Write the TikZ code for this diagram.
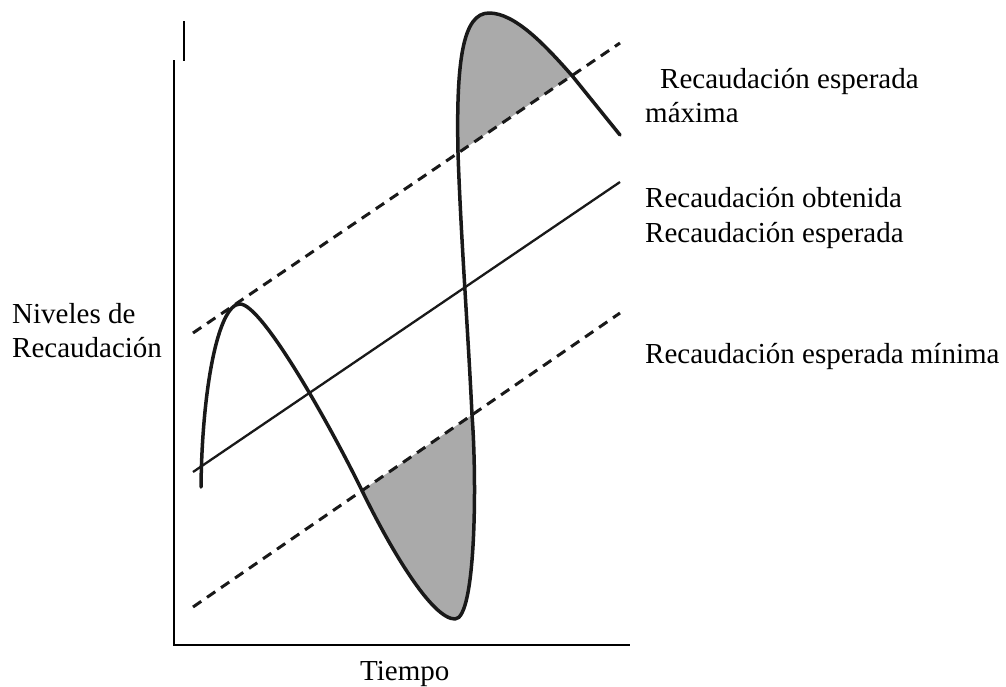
\documentclass[tikz,border=0pt]{standalone}
\usepackage{fontspec}
\setmainfont{Liberation Serif}
\newcommand\lblfont{\fontsize{29}{34}\selectfont}
\definecolor{lobegray}{RGB}{170,170,170}
\definecolor{ink}{RGB}{25,25,25}
\tikzset{
  axisline/.style={line width=2.5pt, line cap=butt, draw=black},
  dashline/.style={line width=3pt, dash pattern=on 10pt off 7pt, draw=ink},
  midline/.style={line width=2.3pt, draw=ink},
  curveline/.style={line width=3.5pt, line join=round, line cap=round, draw=ink},
  lobe/.style={fill=lobegray},
  lbl/.style={anchor=base west, inner sep=0pt, font=\lblfont},
}
\begin{document}
\begin{tikzpicture}[x=1pt, y=-1pt]
\path[use as bounding box] (0,0) rectangle (1006,686);
% coordinates
\coordinate (ua) at (193,333);
\coordinate (ub) at (620,43);
\coordinate (sa) at (193,472);
\coordinate (sb) at (620,182);
\coordinate (la) at (193,607);
\coordinate (lb) at (620,313);
\coordinate (axtop) at (174,60);
\coordinate (axorig) at (174,645);
\coordinate (axright) at (630,645);
\coordinate (ticka) at (184,21);
\coordinate (tickb) at (184,61);
% shaded lobes
\fill[lobe] (362,490.6) .. controls (391,550) and (432,619) .. (455,619)
  .. controls (476,619) and (477,480) .. (472,414.9) -- cycle;
\fill[lobe] (458,153) .. controls (456,60) and (463,13) .. (489,13)
  .. controls (515,13) and (545,45) .. (572,75.6) -- cycle;
% axes
\draw[axisline] (axtop) -- (axorig) -- (axright);
\draw[axisline] (ticka) -- (tickb);
% reference lines
\draw[dashline] (ua) -- (ub);
\draw[midline] (sa) -- (sb);
\draw[dashline] (la) -- (lb);
% obtained revenue curve
\draw[curveline] (201,487) .. controls (202,390) and (218,304) .. (240,304)
  .. controls (262,304) and (330,425) .. (362,490.6)
  .. controls (391,550) and (432,619) .. (455,619)
  .. controls (476,619) and (477,480) .. (472,414.9)
  .. controls (468,330) and (461,240) .. (458,153)
  .. controls (456,60) and (463,13) .. (489,13)
  .. controls (515,13) and (545,45) .. (572,75.6)
  -- (620,135);
% labels
\node[lbl] (maxa) at (660,88) {Recaudación esperada};
\node[lbl] (maxb) at (645,122) {máxima};
\node[lbl] (obt) at (645,207) {Recaudación obtenida};
\node[lbl] (esp) at (645,242) {Recaudación esperada};
\node[lbl] (min) at (645,363) {Recaudación esperada mínima};
\node[lbl] (nivA) at (12,323) {Niveles de};
\node[lbl] (nivB) at (12,357) {Recaudación};
\node[lbl] (tiempo) at (360,680) {Tiempo};
\end{tikzpicture}
\end{document}
